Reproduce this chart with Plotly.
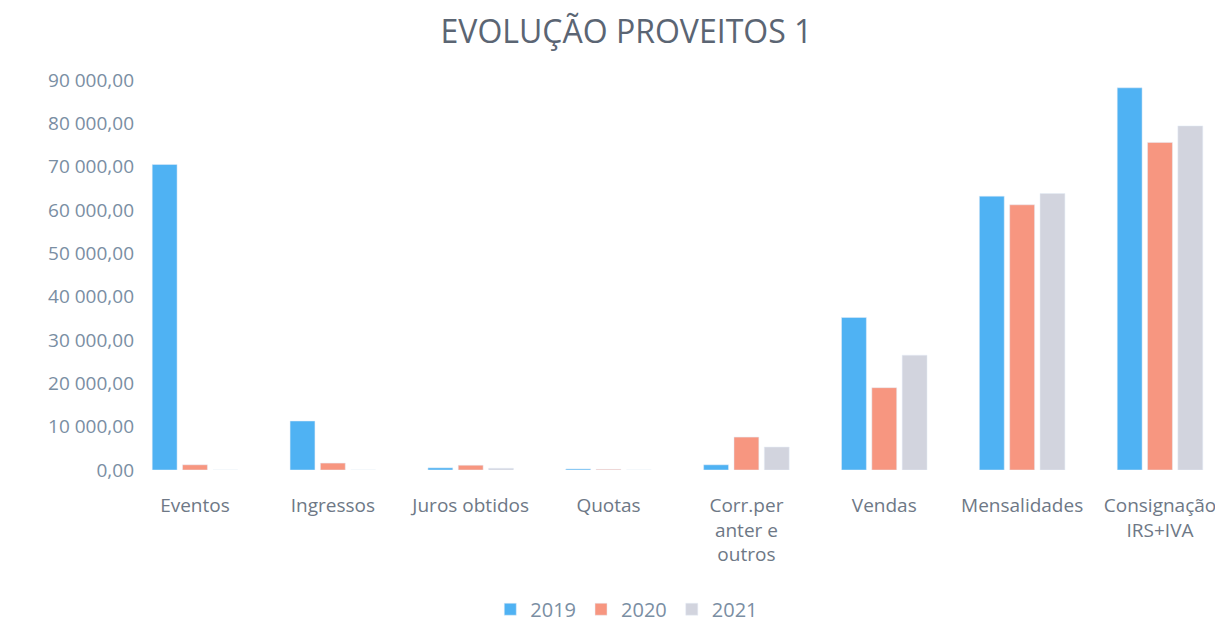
import plotly.graph_objects as go

categories = ["Eventos", "Ingressos", "Juros obtidos", "Quotas", "Corr.per<br>anter e<br>outros",
              "Vendas", "Mensalidades", "Consignação<br>IRS+IVA"]
v2019 = [70500, 11300, 500, 250, 1200, 35200, 63200, 88200]
v2020 = [1200, 1600, 1100, 150, 7600, 19000, 61200, 75600]
v2021 = [0, 0, 400, 0, 5300, 26500, 63800, 79400]
tickvals = [0, 10000, 20000, 30000, 40000, 50000, 60000, 70000, 80000, 90000]
ticktext = ["0,00", "10 000,00", "20 000,00", "30 000,00", "40 000,00", "50 000,00",
            "60 000,00", "70 000,00", "80 000,00", "90 000,00"]

fig = go.Figure()
fig.add_bar(x=categories, y=v2019, name="2019", marker_color="#4fb2f3")
fig.add_bar(x=categories, y=v2020, name="2020", marker_color="#f79680")
fig.add_bar(x=categories, y=v2021, name="2021", marker_color="#d2d4de")

fig.update_layout(
    width=1215, height=618,
    paper_bgcolor="white", plot_bgcolor="white",
    title=dict(text="EVOLUÇÃO PROVEITOS 1", x=0.509, xanchor="center", y=0.961, yanchor="middle",
               font=dict(family="Open Sans", size=32, color="#5b6573")),
    barmode="group", bargap=0.34, bargroupgap=0.18,
    margin=dict(l=127, r=0, t=72, b=156, autoexpand=False),
    font=dict(family="Open Sans", color="#6e7886"),
    xaxis=dict(showline=False, showgrid=False, ticks="", range=[-0.435, 7.457],
               ticklabelstandoff=22, tickfont=dict(size=19, color="#6e7886")),
    yaxis=dict(range=[0, 90000], tickvals=tickvals, ticktext=ticktext, showgrid=False,
               zeroline=False, ticks="", tickfont=dict(size=19, color="#7a8ea3")),
    legend=dict(orientation="h", x=0.452, xanchor="center", y=-0.357, yanchor="middle",
                itemwidth=30, tracegroupgap=0, font=dict(size=20, color="#7a8ea3")),
)
fig.write_html("out.html")
